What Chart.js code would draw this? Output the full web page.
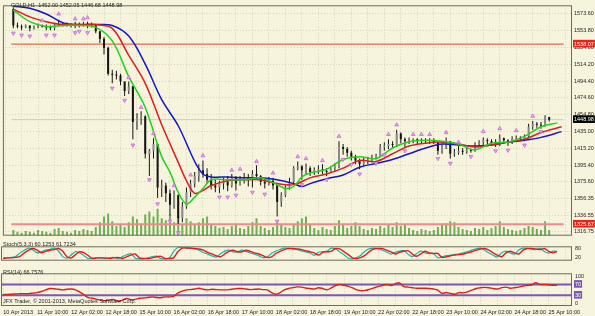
<!DOCTYPE html>
<html>
<head>
<meta charset="utf-8">
<script src="https://cdn.jsdelivr.net/npm/chart.js@4.4.1/dist/chart.umd.min.js"></script>
<style>
  html, body { margin: 0; padding: 0; background: #f6f4dd; }
  #wrap { position: relative; width: 595px; height: 316px; overflow: hidden; font-family: "Liberation Sans", Arial, sans-serif; }
  canvas { position: absolute; left: 0; }
  .lbl { position: absolute; font-size: 5.5px; line-height: 1; color: #1e1e1e; white-space: nowrap; }
</style>
</head>
<body>
<div id="wrap">
  <canvas id="mainChart" width="595" height="241" style="top:0"></canvas>
  <canvas id="stochChart" width="595" height="27" style="top:240px"></canvas>
  <canvas id="rsiChart" width="595" height="49" style="top:267px"></canvas>
  <div class="lbl" style="left:11px;top:3px">GOLD,H1&nbsp; 1452.00 1452.05 1446.68 1448.98</div>
  <div class="lbl" style="left:3px;top:242px">Stoch(5,3,3) 60.1253 61.7234</div>
  <div class="lbl" style="left:3px;top:270px">RSI(14) 66.7576</div>
  <div class="lbl" style="left:3px;top:299px">JFX Trader, © 2001-2013, MetaQuotes Software Corp.</div>
</div>
<script>
// GOLD H1, 10 Apr - 25 Apr 2013 (one bar here = 2 hours)
const timeLabels = ["10 Apr 2013", "11 Apr 10:00", "12 Apr 02:00", "12 Apr 18:00", "15 Apr 10:00",
  "16 Apr 02:00", "16 Apr 18:00", "17 Apr 10:00", "18 Apr 02:00", "18 Apr 18:00", "19 Apr 10:00",
  "22 Apr 02:00", "22 Apr 18:00", "23 Apr 10:00", "24 Apr 02:00", "24 Apr 18:00", "25 Apr 10:00"];

const firstOpen = 1579.3;
const highs = [1581.6,1563.4,1561.1,1561.1,1560.0,1560.0,1562.2,1561.1,1561.1,1560.0,
  1562.2,1566.8,1563.4,1563.4,1562.2,1564.5,1563.4,1564.5,1564.5,1563.4,
  1561.1,1553.2,1546.3,1535.0,1507.7,1506.6,1503.1,1494.1,1494.1,1489.0,
  1456.6,1458.8,1454.0,1414.5,1427.0,1421.0,1378.1,1374.7,1366.8,1365.6,
  1361.0,1352.0,1369.0,1378.1,1387.2,1396.3,1400.9,1391.8,1384.9,1378.1,
  1377.0,1380.4,1382.7,1384.9,1382.7,1382.7,1386.1,1384.9,1389.5,1395.2,
  1383.8,1380.4,1381.5,1380.4,1371.3,1363.4,1371.3,1380.4,1394.0,1399.7,
  1395.2,1397.4,1394.0,1392.9,1395.2,1396.3,1391.8,1394.0,1397.4,1423.6,
  1420.2,1416.8,1412.2,1407.7,1403.1,1404.3,1405.4,1407.7,1408.8,1420.2,
  1422.5,1425.9,1423.6,1437.2,1433.8,1428.1,1428.1,1427.0,1427.0,1427.0,
  1427.0,1427.0,1427.0,1422.5,1420.2,1428.1,1423.6,1414.5,1417.9,1415.6,
  1415.6,1414.5,1422.5,1424.7,1428.1,1427.0,1425.9,1425.9,1431.6,1428.1,
  1425.9,1429.3,1430.4,1429.3,1431.6,1444.1,1447.5,1446.3,1446.3,1454.3,
  1452.05];
const lows = [1556.6,1556.6,1554.3,1556.6,1553.2,1555.4,1556.6,1557.7,1554.3,1554.3,
  1554.3,1558.8,1558.8,1558.8,1557.7,1556.6,1557.7,1558.8,1556.6,1557.7,
  1550.9,1539.5,1525.9,1500.9,1491.8,1496.3,1489.5,1477.0,1479.3,1425.9,
  1437.2,1442.9,1403.1,1382.7,1403.1,1356.5,1357.7,1352.0,1336.1,1344.0,
  1325.9,1328.1,1344.0,1357.7,1369.0,1375.9,1380.4,1373.6,1366.8,1363.4,
  1362.2,1366.8,1364.5,1369.0,1365.6,1371.3,1373.6,1370.2,1369.0,1378.1,
  1371.3,1367.9,1371.3,1366.8,1334.9,1346.3,1357.7,1366.8,1374.0,1389.5,
  1378.1,1384.9,1382.7,1383.8,1384.9,1384.9,1382.7,1386.1,1387.2,1391.8,
  1407.7,1405.4,1400.9,1396.3,1390.6,1394.0,1396.3,1398.6,1402.0,1405.4,
  1412.2,1414.5,1415.6,1417.5,1421.3,1416.8,1420.2,1421.3,1420.2,1421.3,
  1421.3,1420.2,1420.2,1407.7,1408.8,1414.5,1403.1,1405.4,1407.7,1407.7,
  1408.8,1410.0,1411.1,1416.8,1419.0,1419.0,1417.9,1416.8,1418.0,1420.2,
  1417.9,1420.2,1422.5,1423.6,1423.6,1428.1,1437.2,1439.5,1438.4,1440.6,
  1446.68];
const closes = [1560.0,1558.8,1557.7,1560.0,1556.6,1558.8,1560.0,1558.8,1557.7,1556.6,
  1561.1,1562.2,1561.1,1560.0,1561.1,1560.0,1561.1,1562.2,1561.1,1560.0,
  1553.2,1544.1,1533.8,1503.1,1502.0,1500.9,1494.1,1482.7,1488.4,1446.3,
  1450.9,1453.1,1408.8,1412.2,1420.2,1369.0,1371.3,1362.2,1348.6,1359.9,
  1332.7,1346.3,1363.4,1373.6,1382.7,1389.5,1384.9,1378.1,1371.3,1369.0,
  1373.6,1375.9,1371.3,1380.4,1373.6,1378.1,1381.5,1378.1,1384.9,1382.7,
  1375.9,1373.6,1377.0,1371.3,1352.0,1359.9,1369.0,1375.9,1391.8,1394.0,
  1389.5,1391.8,1387.2,1389.5,1390.6,1388.4,1387.2,1391.8,1394.0,1416.8,
  1414.5,1410.0,1405.4,1400.9,1396.3,1399.7,1402.0,1404.3,1406.5,1416.8,
  1417.9,1420.2,1419.0,1432.7,1425.9,1423.6,1424.7,1425.9,1423.6,1424.7,
  1423.6,1424.7,1422.5,1412.2,1416.8,1423.6,1408.8,1410.0,1412.2,1411.1,
  1413.4,1412.2,1420.2,1422.5,1424.7,1423.6,1421.3,1419.0,1427.0,1424.7,
  1422.5,1425.9,1427.0,1425.9,1429.3,1440.6,1444.1,1442.9,1441.8,1452.0,
  1448.98];
const volumes = [600,400,300,500,400,300,600,500,400,300,
  700,800,500,400,300,600,500,700,600,500,
  900,1400,2000,2300,1500,1000,1200,900,1400,2000,
  1700,1200,2200,2500,2000,2800,1800,1600,2200,1400,
  2000,1200,1800,1500,1200,1400,1800,2000,1200,1000,
  800,900,700,1000,1200,800,700,1000,1400,1800,
  1000,800,600,900,1600,1200,900,800,1200,1500,
  1800,2000,1200,800,600,900,700,600,1000,1600,
  1200,800,1000,1400,1000,700,600,800,700,1000,
  800,1100,900,1400,1000,1200,800,600,500,700,
  600,500,600,900,1100,1300,1500,1400,900,700,
  600,500,800,700,900,600,800,1000,1500,900,
  700,600,500,600,800,1000,900,700,600,1500,
  600];

// Alligator lines: [bar, price]
const lipsPts = [[0,1578.2],[4,1564.5],[8,1558.8],[12,1560.0],[16,1560.0],[20,1557.7],[24,1541.8],
  [28,1499.7],[32,1463.4],[36,1405.4],[38,1387.2],[40,1363.4],[42,1349.7],[44,1357.7],[46,1367.9],
  [48,1378.1],[52,1378.1],[56,1378.1],[60,1380.4],[64,1372.4],[66,1367.9],[68,1370.2],[70,1381.5],
  [72,1386.1],[76,1390.6],[80,1402.0],[84,1405.4],[88,1403.1],[92,1415.6],[96,1423.0],[100,1424.7],
  [104,1423.6],[108,1420.2],[112,1413.4],[116,1421.3],[120,1422.5],[124,1429.3],[128,1440.6],[132,1445.2]];
const teethPts = [[0,1579.3],[4,1570.2],[8,1564.5],[12,1561.1],[16,1561.1],[20,1561.1],[24,1556.6],
  [28,1524.7],[32,1491.8],[36,1442.9],[40,1398.6],[42,1377.0],[44,1362.2],[46,1365.6],[48,1371.3],
  [52,1377.0],[56,1378.1],[60,1378.1],[64,1373.6],[68,1372.4],[72,1380.4],[76,1384.9],[80,1391.8],
  [84,1400.9],[88,1399.7],[92,1408.8],[96,1417.9],[100,1421.3],[104,1422.5],[108,1420.2],[112,1416.8],
  [116,1419.0],[120,1422.5],[124,1425.9],[128,1433.8],[133,1440.6]];
const jawPts = [[0,1582.7],[4,1580.4],[8,1573.6],[12,1563.4],[16,1561.1],[20,1561.1],[24,1560.0],
  [28,1547.5],[32,1514.5],[36,1472.5],[40,1441.8],[44,1399.7],[46,1385.0],[48,1381.5],[52,1381.5],
  [56,1380.4],[60,1380.4],[64,1378.1],[68,1373.6],[70,1370.2],[72,1373.6],[76,1379.3],[80,1383.8],
  [84,1392.9],[88,1397.4],[92,1402.0],[96,1408.8],[100,1415.6],[104,1420.2],[108,1419.0],[112,1417.9],
  [116,1419.0],[120,1422.5],[124,1424.7],[128,1428.1],[133,1434.9]];

const upFractalBars = [7,11,15,17,18,28,31,34,39,43,46,53,55,59,63,69,71,75,79,91,93,97,99,101,105,108,114,118,122,126];
const upFractalPrices = [1565.6,1573.6,1567.9,1567.9,1569.1,1498.6,1463.4,1432.7,1371.3,1383.8,
  1406.5,1389.5,1390.6,1399.7,1386.1,1405.4,1403.1,1400.9,1429.3,1431.6,
  1442.9,1431.6,1431.6,1431.6,1433.8,1422.5,1435.0,1438.4,1436.1,1453.1];
const downFractalBars = [0,2,4,8,10,15,16,18,24,27,29,33,35,38,40,50,52,54,58,61,64,70,76,80,82,84,88,90,95,103,106,111,117,120,124,128];
const downFractalPrices = [1550.9,1548.6,1547.5,1548.6,1548.6,1551.5,1553.2,1551.5,1486.1,1471.7,
  1419.0,1378.1,1349.7,1329.3,1315.6,1357.7,1357.7,1359.9,1363.4,1361.1,
  1329.3,1372.4,1378.1,1402.0,1396.0,1384.9,1397.4,1407.5,1412.2,1403.1,
  1397.4,1405.4,1412.2,1413.0,1419.0,1434.9];

const stochMain = [20,20,23,30,52,69,82,70,52,60,
  70,74,82,64,28,18,40,60,52,34,
  15,19,20,20,15,20,24,15,28,40,
  47,18,14,15,20,28,31,15,14,19,
  60,86,85,84,80,77,69,54,44,33,
  25,46,63,70,58,58,70,62,51,44,
  33,22,26,49,64,74,82,81,77,73,
  65,58,51,36,56,60,63,82,78,58,
  40,18,14,22,39,64,79,82,80,69,
  58,44,56,63,67,44,28,46,63,52,
  47,48,21,26,34,38,42,46,53,60,
  70,78,82,69,51,37,26,53,63,52,
  44,70,82,81,77,72,81,61,50,63,
  60];
const stochSignal = [16,20,20,23,30,52,69,80,69,52,
  62,69,73,80,62,27,20,41,59,52,
  34,16,20,20,20,16,20,23,16,27,
  38,45,20,16,16,20,27,30,16,16,
  20,59,83,83,83,80,77,69,55,45,
  34,27,45,62,69,59,59,69,62,52,
  45,34,23,27,48,62,73,80,80,77,
  73,66,59,52,38,55,59,62,80,77,
  59,41,20,16,23,38,62,77,80,80,
  69,59,45,55,62,66,45,30,45,62,
  52,48,48,23,27,34,38,41,45,52,
  59,69,77,80,69,52,38,27,52,62,
  52,45,69,80,80,77,73,80,62,52,
  62];
const rsiValues = [33,33,34,35,36,36,36,38,40,44,
  50,55,54,52,50,52,53,50,42,32,
  21,19,15,12,10,13,14,8,12,18,
  14,15,19,20,22,24,22,21,24,24,
  26,38,45,50,51,53,56,52,50,52,
  51,50,50,51,53,55,55,53,51,52,
  53,51,50,40,34,40,50,55,58,61,
  60,57,55,53,58,55,50,57,66,70,
  67,63,57,50,47,48,52,57,62,66,
  70,66,72,76,62,60,58,56,56,56,
  55,53,49,37,40,37,34,40,39,43,
  49,55,58,59,58,55,53,58,60,56,
  58,60,64,66,68,76,70,70,69,67,
  66.76];

const priceTicks = [1573.60,1553.80,1534.00,1514.20,1494.40,1474.60,1454.80,1435.00,1415.20,1395.40,1375.60,1356.35,1336.55,1316.75];
const priceMarks = [1538.07, 1325.67, 1448.98];
const stochTicks = [80, 20];
const rsiTicks = [100, 70, 30, 0];
const rsiLevels = [70, 30];

// look
const GRID = '#d6d2b8';
const FRAME = '#6c6c5a';
const TEXT = '#1e1e1e';
const X_MIN = -0.5, X_MAX = 133.5;

Chart.defaults.font.family = '"Liberation Sans", Arial, sans-serif';
Chart.defaults.font.size = 5.5;
Chart.defaults.color = TEXT;

const framePlugin = {
  id: 'frame',
  afterDraw(chart) {
    const { ctx, chartArea: a } = chart;
    ctx.save();
    ctx.strokeStyle = FRAME;
    ctx.lineWidth = 1;
    ctx.strokeRect(a.left + 0.5, a.top + 0.5, a.right - a.left - 1, a.bottom - a.top - 1);
    ctx.restore();
  }
};

const gridBars = timeLabels.flatMap((_, k) => [8 * k, 8 * k + 4]);
const opens = closes.map((c, i) => (i === 0 ? firstOpen : closes[i - 1]));
const toXY = arr => arr.map((v, i) => ({ x: i, y: v }));
const pairsToXY = pts => pts.map(p => ({ x: p[0], y: p[1] }));
const flat = v => [{ x: X_MIN, y: v }, { x: X_MAX, y: v }];

function xAxis(showLabels) {
  return {
    type: 'linear', min: X_MIN, max: X_MAX,
    afterBuildTicks: s => { s.ticks = gridBars.map(v => ({ value: v })); },
    afterFit: s => { s.height = showLabels ? 10 : 0; },
    grid: { color: GRID, drawTicks: false },
    border: { display: false, dash: [1, 2] },
    ticks: showLabels
      ? { autoSkip: false, maxRotation: 0, align: 'start', padding: 3,
          callback: v => (v % 8 === 0 ? timeLabels[v / 8] : '') }
      : { display: false }
  };
}

const baseOpts = {
  responsive: false, animation: false, devicePixelRatio: 1,
  plugins: { legend: { display: false }, tooltip: { enabled: false } },
  elements: { point: { radius: 0, hoverRadius: 0 }, line: { borderWidth: 1.5 } }
};

// main price panel
const markColor = v => (v === priceMarks[2] ? '#000000' : '#e8241a');
new Chart(document.getElementById('mainChart'), {
  type: 'line',
  data: {
    datasets: [
      { type: 'bar', yAxisID: 'yVol', data: toXY(volumes), backgroundColor: '#6fae57',
        grouped: false, maxBarThickness: 2, order: 7 },
      { data: flat(priceMarks[0]), borderColor: '#e46a4c', borderWidth: 1.3, order: 6 },
      { data: flat(priceMarks[1]), borderColor: '#f08a8a', borderWidth: 2, order: 6 },
      { data: flat(priceMarks[2]), borderColor: '#cfcbb6', borderWidth: 1, order: 6 },
      { type: 'bar', data: highs.map((h, i) => ({ x: i, y: [lows[i], h] })), backgroundColor: '#141414',
        grouped: false, maxBarThickness: 1, order: 5 },
      { type: 'bar', data: closes.map((c, i) => ({ x: i, y: [opens[i], c] })),
        backgroundColor: closes.map((c, i) => (c >= opens[i] ? '#8a8a8a' : '#141414')),
        grouped: false, maxBarThickness: 2, minBarLength: 1, order: 4 },
      { data: pairsToXY(jawPts), borderColor: '#1616c8', tension: 0.35, order: 3.3 },
      { data: pairsToXY(teethPts), borderColor: '#dc1e1e', tension: 0.35, order: 3.2 },
      { data: pairsToXY(lipsPts), borderColor: '#1ed21e', tension: 0.35, order: 3.1 },
      { data: upFractalBars.map((b, k) => ({ x: b, y: upFractalPrices[k] })), showLine: false,
        pointStyle: 'triangle', pointRadius: 2.2, backgroundColor: '#f0a0f4', borderColor: '#c060d4',
        pointBorderWidth: 0.7, order: 1 },
      { data: downFractalBars.map((b, k) => ({ x: b, y: downFractalPrices[k] })), showLine: false,
        pointStyle: 'triangle', pointRotation: 180, pointRadius: 2.2, backgroundColor: '#f0a0f4',
        borderColor: '#c060d4', pointBorderWidth: 0.7, order: 1 }
    ]
  },
  options: Object.assign({}, baseOpts, {
    layout: { padding: { left: 1, right: 0, top: 1, bottom: 1 } },
    scales: {
      x: xAxis(false),
      y: {
        position: 'right', min: 1312.2, max: 1583.8,
        afterBuildTicks: s => { s.ticks = priceTicks.concat(priceMarks).map(v => ({ value: v })); },
        afterFit: s => { s.width = 23; },
        grid: { drawTicks: false, color: c => (priceMarks.includes(c.tick.value) ? 'rgba(0,0,0,0)' : GRID) },
        border: { display: false, dash: [1, 2] },
        ticks: {
          autoSkip: false, padding: 2,
          callback: v => v.toFixed(2),
          showLabelBackdrop: c => priceMarks.includes(c.tick.value),
          backdropColor: c => markColor(c.tick.value),
          backdropPadding: { left: 1, right: 1, top: 1, bottom: 0 },
          color: c => (priceMarks.includes(c.tick.value) ? '#ffffff' : TEXT)
        }
      },
      yVol: { display: false, min: 0, max: 23900 }
    }
  }),
  plugins: [framePlugin]
});

// stochastic panel
new Chart(document.getElementById('stochChart'), {
  type: 'line',
  data: {
    datasets: [
      { data: toXY(stochSignal), borderColor: '#dc1e1e', borderWidth: 1.4, tension: 0.3, order: 2 },
      { data: toXY(stochMain), borderColor: '#20b2aa', borderWidth: 1.2, tension: 0.3, order: 3 }
    ]
  },
  options: Object.assign({}, baseOpts, {
    layout: { padding: { left: 1, right: 0, top: 1, bottom: 0 } },
    scales: {
      x: xAxis(false),
      y: {
        position: 'right', min: 2, max: 94,
        afterBuildTicks: s => { s.ticks = stochTicks.map(v => ({ value: v })); },
        afterFit: s => { s.width = 23; },
        grid: { display: false, drawTicks: false },
        border: { display: false },
        ticks: { autoSkip: false, padding: 3 }
      }
    }
  }),
  plugins: [framePlugin]
});

// RSI panel
new Chart(document.getElementById('rsiChart'), {
  type: 'line',
  data: {
    datasets: [
      { data: flat(rsiLevels[0]), borderColor: '#7a58b4', borderWidth: 2, order: 3 },
      { data: flat(rsiLevels[1]), borderColor: '#7a58b4', borderWidth: 2, order: 3 },
      { data: toXY(rsiValues), borderColor: '#dc1e1e', borderWidth: 1.4, tension: 0.3, order: 1 }
    ]
  },
  options: Object.assign({}, baseOpts, {
    layout: { padding: { left: 1, right: 0, top: 1, bottom: 0 } },
    scales: {
      x: xAxis(true),
      y: {
        position: 'right', min: -9.5, max: 111,
        afterBuildTicks: s => { s.ticks = rsiTicks.map(v => ({ value: v })); },
        afterFit: s => { s.width = 23; },
        grid: { display: false, drawTicks: false },
        border: { display: false },
        ticks: {
          autoSkip: false, padding: 3,
          showLabelBackdrop: c => rsiLevels.includes(c.tick.value),
          backdropColor: '#7a58b4',
          backdropPadding: { left: 1, right: 1, top: 1, bottom: 0 },
          color: c => (rsiLevels.includes(c.tick.value) ? '#ffffff' : TEXT)
        }
      }
    }
  }),
  plugins: [framePlugin]
});
</script>
</body>
</html>
